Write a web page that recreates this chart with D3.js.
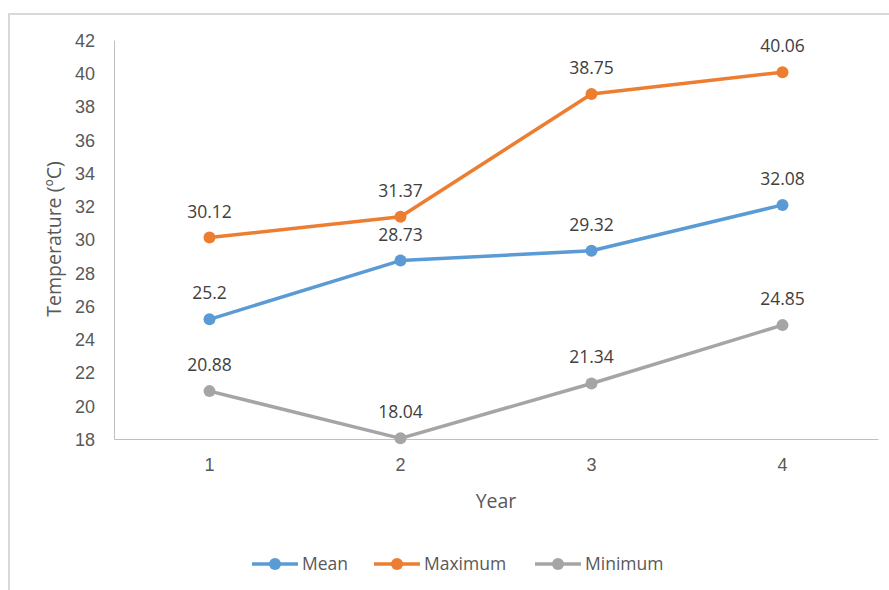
<!DOCTYPE html>
<html>
<head>
<meta charset="utf-8">
<script src="https://cdn.jsdelivr.net/npm/d3@7"></script>
<style>
  body { margin: 0; background: #fff; }
  svg { font-family: "Open Sans", "Liberation Sans", sans-serif; }
  .axis text { fill: #595959; font-size: 18px; }
</style>
</head>
<body>
<svg id="chart" width="889" height="590"></svg>
<script>
var years = [1, 2, 3, 4];
var meanTemp = [25.2, 28.73, 29.32, 32.08];
var maxTemp = [30.12, 31.37, 38.75, 40.06];
var minTemp = [20.88, 18.04, 21.34, 24.85];
var yTicks = [18, 20, 22, 24, 26, 28, 30, 32, 34, 36, 38, 40, 42];
var seriesNames = ["Mean", "Maximum", "Minimum"];
var seriesColors = ["#5b9bd5", "#ed7d31", "#a5a5a5"];

var series = [meanTemp, maxTemp, minTemp].map(function(v, i) {
  return { name: seriesNames[i], color: seriesColors[i], values: v };
});

var svg = d3.select("#chart"),
    margin = {top: 40, right: 11, bottom: 151, left: 114},
    width = 878 - margin.left,
    height = 439 - margin.top,
    g = svg.append("g").attr("transform", "translate(" + margin.left + "," + margin.top + ")");

// outer chart frame (right/bottom edges sit outside the window)
svg.append("rect")
    .attr("x", 9).attr("y", 14)
    .attr("width", 900).attr("height", 600)
    .attr("fill", "none")
    .attr("stroke", "#d9d9d9")
    .attr("stroke-width", 2);

var x = d3.scaleBand()
    .domain(years)
    .range([0, width]);

var y = d3.scaleLinear()
    .domain([18, 42])
    .range([height, 0]);

// x axis
var xAxis = g.append("g")
    .attr("class", "axis")
    .attr("transform", "translate(0," + height + ")")
    .call(d3.axisBottom(x).tickSize(0).tickPadding(19));
xAxis.select(".domain").attr("stroke", "#bfbfbf");

// y axis
var yAxis = g.append("g")
    .attr("class", "axis")
    .call(d3.axisLeft(y).tickValues(yTicks).tickSize(0).tickPadding(19));
yAxis.select(".domain").attr("stroke", "#bfbfbf");
yAxis.selectAll("text").attr("dy", "0.36em");

// axis titles
svg.append("text")
    .attr("transform", "translate(54,239) rotate(-90)")
    .attr("text-anchor", "middle")
    .attr("dy", "0.36em")
    .attr("fill", "#595959")
    .attr("font-size", 19.5)
    .text("Temperature (ºC)");

svg.append("text")
    .attr("x", 496)
    .attr("y", 508)
    .attr("text-anchor", "middle")
    .attr("fill", "#595959")
    .attr("font-size", 19.5)
    .text("Year");

var line = d3.line()
    .x(function(d, i) { return x(years[i]) + x.bandwidth() / 2; })
    .y(function(d) { return y(d); });

var sg = g.selectAll(".series")
    .data(series)
    .enter().append("g")
    .attr("class", "series");

sg.append("path")
    .attr("d", function(d) { return line(d.values); })
    .attr("fill", "none")
    .attr("stroke", function(d) { return d.color; })
    .attr("stroke-width", 3.5)
    .attr("stroke-linejoin", "round");

sg.selectAll("circle")
    .data(function(d) { return d.values.map(function(v, i) { return {v: v, i: i, color: d.color}; }); })
    .enter().append("circle")
    .attr("cx", function(d) { return x(years[d.i]) + x.bandwidth() / 2; })
    .attr("cy", function(d) { return y(d.v); })
    .attr("r", 6)
    .attr("fill", function(d) { return d.color; });

sg.selectAll(".lbl")
    .data(function(d) { return d.values.map(function(v, i) { return {v: v, i: i}; }); })
    .enter().append("text")
    .attr("class", "lbl")
    .attr("x", function(d) { return x(years[d.i]) + x.bandwidth() / 2; })
    .attr("y", function(d) { return y(d.v) - 20; })
    .attr("text-anchor", "middle")
    .attr("fill", "#404040")
    .attr("font-size", 17.5)
    .text(function(d) { return d.v; });

// legend
var legendX = [252, 374, 535];
var legend = svg.selectAll(".legend")
    .data(series)
    .enter().append("g")
    .attr("class", "legend")
    .attr("transform", function(d, i) { return "translate(" + legendX[i] + ",564)"; });

legend.append("line")
    .attr("x1", 0).attr("x2", 46)
    .attr("stroke", function(d) { return d.color; })
    .attr("stroke-width", 3.5);

legend.append("circle")
    .attr("cx", 23)
    .attr("r", 6)
    .attr("fill", function(d) { return d.color; });

legend.append("text")
    .attr("x", 50)
    .attr("dy", "0.36em")
    .attr("fill", "#595959")
    .attr("font-size", 17.5)
    .text(function(d) { return d.name; });
</script>
</body>
</html>
